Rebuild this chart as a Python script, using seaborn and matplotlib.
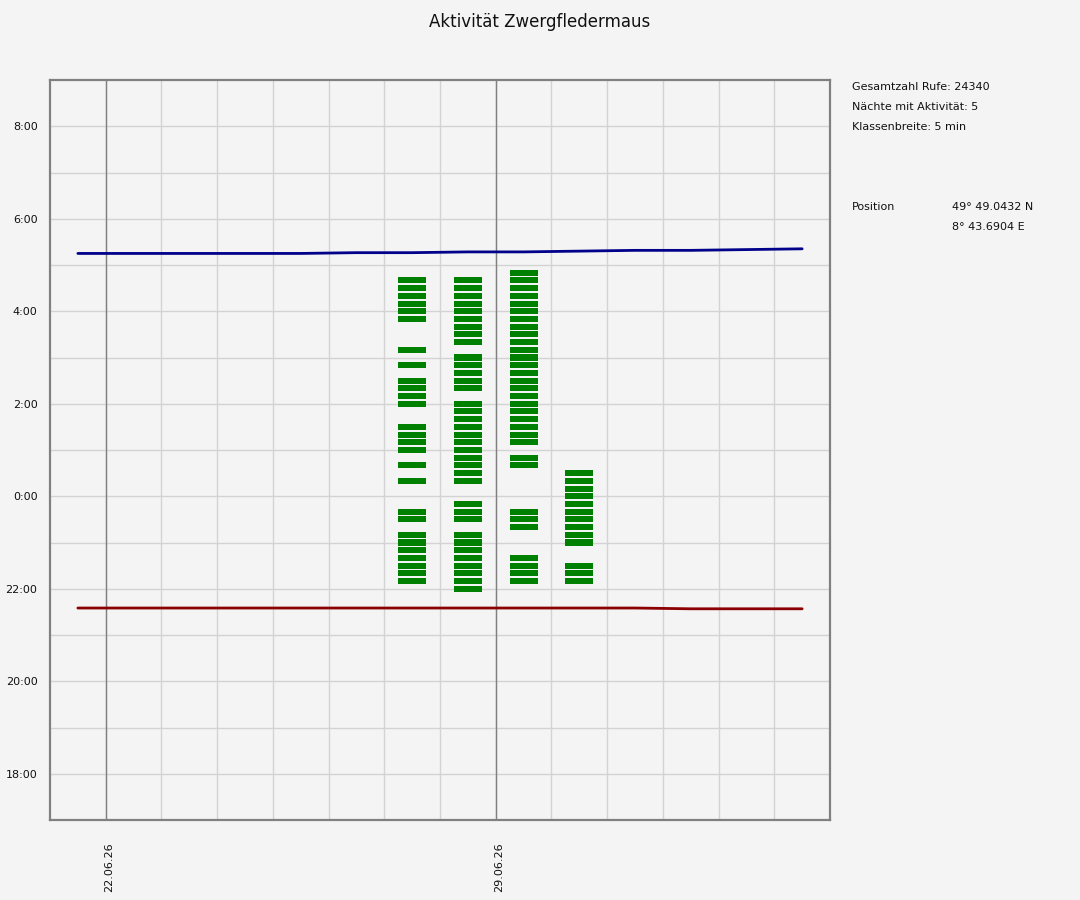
import pandas as pd
import numpy as np
import matplotlib
matplotlib.use("Agg")
import matplotlib.pyplot as plt
import seaborn as sns

# Nächte mit Aktivität (Datum des Abends) und belegte Zeitklassen
nights = ["27.06.26", "28.06.26", "29.06.26", "30.06.26"]
bins_27 = ["04:40", "04:30", "04:20", "04:10", "04:00", "03:50", "03:10", "02:50",
           "02:30", "02:20", "02:10", "02:00", "01:30", "01:20", "01:10", "01:00",
           "00:40", "00:20", "23:40", "23:30", "23:10", "23:00", "22:50", "22:40",
           "22:30", "22:20", "22:10"]
bins_28 = ["04:40", "04:30", "04:20", "04:10", "04:00", "03:50", "03:40", "03:30",
           "03:20", "03:00", "02:50", "02:40", "02:30", "02:20", "02:00", "01:50",
           "01:40", "01:30", "01:20", "01:10", "01:00", "00:50", "00:40", "00:30",
           "00:20", "23:50", "23:40", "23:30", "23:10", "23:00", "22:50", "22:40",
           "22:30", "22:20", "22:10", "22:00"]
bins_29 = ["04:50", "04:40", "04:30", "04:20", "04:10", "04:00", "03:50", "03:40",
           "03:30", "03:20", "03:10", "03:00", "02:50", "02:40", "02:30", "02:20",
           "02:10", "02:00", "01:50", "01:40", "01:30", "01:20", "01:10", "00:50",
           "00:40", "23:40", "23:30", "23:20", "22:40", "22:30", "22:20", "22:10"]
bins_30 = ["00:30", "00:20", "00:10", "00:00", "23:50", "23:40", "23:30", "23:20",
           "23:10", "23:00", "22:30", "22:20", "22:10"]

# Sonnenauf- und -untergang je Nacht
sun_days = ["21.06.26", "22.06.26", "23.06.26", "24.06.26", "25.06.26", "26.06.26",
            "27.06.26", "28.06.26", "29.06.26", "30.06.26", "01.07.26", "02.07.26",
            "03.07.26", "04.07.26"]
sunrise = ["05:15", "05:15", "05:15", "05:15", "05:15", "05:16", "05:16", "05:17",
           "05:17", "05:18", "05:19", "05:19", "05:20", "05:21"]
sunset = ["21:35", "21:35", "21:35", "21:35", "21:35", "21:35", "21:35", "21:35",
          "21:35", "21:35", "21:35", "21:34", "21:34", "21:34"]

week_ticks = ["22.06.26", "29.06.26"]
y_tick_vals = [-6, -4, -2, 0, 2, 4, 6, 8]
y_tick_labels = ["18:00", "20:00", "22:00", "0:00", "2:00", "4:00", "6:00", "8:00"]

info_lines = ["Gesamtzahl Rufe: 24340", "Nächte mit Aktivität: 5", "Klassenbreite: 5 min"]


def to_hours(s):
    h, m = s.split(":")
    v = int(h) + int(m) / 60
    return v - 24 if v >= 12 else v


start = pd.Timestamp("2026-06-21")


def to_day(s):
    return (pd.to_datetime(s, format="%d.%m.%y") - start).days


sns.set_style("white")
plt.rcParams["font.family"] = ["DejaVu Sans"]
bg = "#f4f4f4"

fig = plt.figure(figsize=(10.8, 9), dpi=100, facecolor=bg)
ax = fig.add_axes([50 / 1080, 80 / 900, 780 / 1080, 740 / 900])
ax.set_facecolor(bg)

ax.set_xlim(0, 14)
ax.set_ylim(-7, 9)

# Gitter
for d in range(1, 14):
    ax.axvline(d, color="#d3d3d3", lw=1, zorder=0)
for h in range(-6, 9):
    ax.axhline(h, color="#d3d3d3", lw=1, zorder=0)
for w in week_ticks:
    ax.axvline(to_day(w), color="#808080", lw=1, zorder=0.5)

# Aktivitätsklassen
bar_h = 7.8 / 60
for night, bins in zip(nights, [bins_27, bins_28, bins_29, bins_30]):
    t = np.array([to_hours(b) for b in bins])
    x = np.full(len(t), to_day(night) + 0.5)
    ax.bar(x, bar_h, bottom=t - bar_h / 2, width=0.5, color="#008000",
           linewidth=0, zorder=2)

sun = pd.DataFrame({
    "x": [to_day(d) + 0.5 for d in sun_days],
    "rise": [to_hours(s) for s in sunrise],
    "set": [to_hours(s) for s in sunset],
})
sns.lineplot(data=sun, x="x", y="rise", color="#00008b", lw=2, ax=ax, zorder=3)
sns.lineplot(data=sun, x="x", y="set", color="#8b0000", lw=2, ax=ax, zorder=3)

ax.set_xlabel("")
ax.set_ylabel("")
ax.set_xticks([])
ax.set_yticks(y_tick_vals)
ax.set_yticklabels(y_tick_labels)
ax.tick_params(axis="y", length=0, pad=9, labelsize=8, colors="#111111")

for w in week_ticks:
    ax.text(to_day(w) + 0.07, -(892 - 820) / 740, w, rotation=90, ha="center",
            va="bottom", fontsize=8, color="#111111",
            transform=ax.get_xaxis_transform())

for sp in ax.spines.values():
    sp.set_color("#808080")
    sp.set_linewidth(1.6)

fig.text(540 / 1080, 1 - 22 / 900, "Aktivität Zwergfledermaus", ha="center",
         va="center", fontsize=12, color="#111111")

for i, line in enumerate(info_lines):
    fig.text(852 / 1080, 1 - (87 + 20 * i) / 900, line, ha="left", va="center",
             fontsize=8, color="#111111")
fig.text(852 / 1080, 1 - 207 / 900, "Position", ha="left", va="center",
         fontsize=8, color="#111111")
fig.text(952 / 1080, 1 - 207 / 900, "49° 49.0432 N", ha="left", va="center",
         fontsize=8, color="#111111")
fig.text(952 / 1080, 1 - 227 / 900, "8° 43.6904 E", ha="left", va="center",
         fontsize=8, color="#111111")

fig.savefig("out.png", dpi=100, facecolor=bg)
